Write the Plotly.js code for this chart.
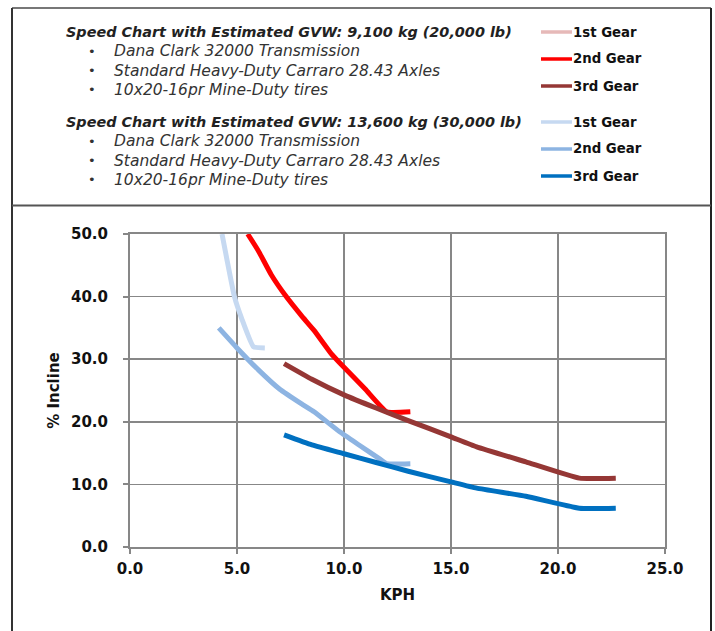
<!DOCTYPE html>
<html><head><meta charset="utf-8">
<script src="https://cdn.plot.ly/plotly-3.0.1.min.js"></script>
<style>html,body{margin:0;padding:0;background:#fff}#chart{width:715px;height:631px}</style>
</head><body><div id="chart"></div>
<script>
// ---- text content ----
const gearNames = ['1st Gear', '2nd Gear', '3rd Gear'];
const headers = ['Speed Chart with Estimated GVW: 9,100 kg (20,000 lb)',
                 'Speed Chart with Estimated GVW: 13,600 kg (30,000 lb)'];
const bullets = ['Dana Clark 32000 Transmission',
                 'Standard Heavy-Duty Carraro 28.43 Axles',
                 '10x20-16pr Mine-Duty tires'];
const xTickVals = [0, 5, 10, 15, 20, 25];
const yTickVals = [0, 10, 20, 30, 40, 50];

// ---- data: GVW 20,000 lb ----
const g1_20k_kph = [];
const g1_20k_inc = [];
const g2_20k_kph = [5.5, 6.0, 6.6, 7.3, 8.0, 8.6, 9.4, 10.0, 11.0, 12.0, 13.1];
const g2_20k_inc = [50.0, 47.3, 43.5, 40.0, 37.0, 34.6, 30.9, 28.7, 25.2, 21.6, 21.6];
const g3_20k_kph = [7.2, 8.5, 10.0, 11.5, 13.0, 15.0, 16.2, 18.5, 21.0, 22.7];
const g3_20k_inc = [29.3, 26.8, 24.3, 22.2, 20.2, 17.6, 16.0, 13.6, 11.0, 11.0];

// ---- data: GVW 30,000 lb ----
const g1_30k_kph = [4.3, 4.52, 4.88, 5.22, 5.77, 6.3];
const g1_30k_inc = [50.0, 46.1, 40.0, 36.5, 32.0, 31.8];
const g2_30k_kph = [4.15, 5.0, 6.0, 7.0, 8.0, 8.6, 9.8, 10.7, 11.7, 12.0, 13.1];
const g2_30k_inc = [35.0, 31.8, 28.3, 25.2, 22.9, 21.6, 18.4, 16.3, 14.0, 13.3, 13.3];
const g3_30k_kph = [7.2, 8.5, 10.0, 11.5, 13.0, 15.0, 16.2, 18.5, 21.0, 22.7];
const g3_30k_inc = [17.9, 16.3, 14.9, 13.5, 12.1, 10.4, 9.4, 8.1, 6.2, 6.2];

const colors20k = ['#E6B9B8', '#FF0000', '#953735'];
const colors30k = ['#C6D9F1', '#8DB4E2', '#0070C0'];

// ---- layout geometry ----
const W = 715, H = 631;
const M = {l: 130, r: 50, t: 234, b: 84};
const PW = W - M.l - M.r, PH = H - M.t - M.b;
const px = x => (x - M.l) / PW;
const py = y => (H - M.b - y) / PH;

const series = [
  [g1_20k_kph, g1_20k_inc, colors20k[0], gearNames[0]],
  [g2_20k_kph, g2_20k_inc, colors20k[1], gearNames[1]],
  [g3_20k_kph, g3_20k_inc, colors20k[2], gearNames[2]],
  [g1_30k_kph, g1_30k_inc, colors30k[0], gearNames[0]],
  [g2_30k_kph, g2_30k_inc, colors30k[1], gearNames[1]],
  [g3_30k_kph, g3_30k_inc, colors30k[2], gearNames[2]],
];
const traces = series.map(s => ({
  type: 'scatter', mode: 'lines', x: s[0], y: s[1], name: s[3],
  line: {color: s[2], width: 5, shape: 'spline', smoothing: 0.4},
  showlegend: false, hoverinfo: 'x+y'
}));

const annotations = [];
const shapes = [];
const txtFont = 'DejaVu Sans, Open Sans, sans-serif';
const groupTop = [32, 122];
const rowGap = 19.3;
const legendGap = 27;
[0, 1].forEach(g => {
  const y0 = groupTop[g];
  annotations.push({xref: 'paper', yref: 'paper', x: px(64), y: py(y0), xanchor: 'left', yanchor: 'middle',
    text: '<b><i>' + headers[g] + '</i></b>', showarrow: false,
    font: {family: txtFont, size: 14.4, color: '#222'}});
  bullets.forEach((b, i) => {
    const yy = y0 + rowGap * (i + 1);
    annotations.push({xref: 'paper', yref: 'paper', x: px(92), y: py(yy), xanchor: 'center', yanchor: 'middle',
      text: '•', showarrow: false, font: {family: txtFont, size: 13, color: '#333'}});
    annotations.push({xref: 'paper', yref: 'paper', x: px(112), y: py(yy), xanchor: 'left', yanchor: 'middle',
      text: '<i>' + b + '</i>', showarrow: false, font: {family: txtFont, size: 15.5, color: '#333'}});
  });
  const cols = g === 0 ? colors20k : colors30k;
  gearNames.forEach((n, i) => {
    const yy = y0 + legendGap * i;
    shapes.push({type: 'line', xref: 'paper', yref: 'paper', x0: px(541), x1: px(572), y0: py(yy), y1: py(yy),
      line: {color: cols[i], width: 3.5}});
    annotations.push({xref: 'paper', yref: 'paper', x: px(571), y: py(yy), xanchor: 'left', yanchor: 'middle',
      text: '<b>' + n + '</b>', showarrow: false, font: {family: txtFont, size: 13.3, color: '#111'}});
  });
});

// frame borders
const frame = [
  [12, 8, 711, 8, '#777'],
  [12, 8, 12, 660, '#333'],
  [711, 8, 711, 660, '#222'],
  [12, 205.5, 711, 205.5, '#555'],
];
frame.forEach(f => shapes.push({type: 'line', xref: 'paper', yref: 'paper',
  x0: px(f[0]), y0: py(f[1]), x1: px(f[2]), y1: py(f[3]), line: {color: f[4], width: 2}}));

const axisCommon = {
  showgrid: true, gridcolor: '#878787', gridwidth: 1.6,
  showline: true, linecolor: '#878787', linewidth: 2, mirror: true,
  ticks: 'outside', ticklen: 5, tickcolor: '#878787', tickwidth: 2,
  zeroline: false, tickformat: '.1f',
  tickfont: {family: txtFont, size: 15, color: '#111', weight: 'bold'},
  fixedrange: true
};

const layout = {
  width: W, height: H, margin: M,
  paper_bgcolor: '#fff', plot_bgcolor: '#fff',
  showlegend: false,
  xaxis: Object.assign({}, axisCommon, {range: [0, 25], tickvals: xTickVals, ticklabelstandoff: 2,
    title: {text: 'KPH', font: {family: txtFont, size: 15, color: '#111', weight: 'bold'}, standoff: 12}}),
  yaxis: Object.assign({}, axisCommon, {range: [0, 50], tickvals: yTickVals, ticklabelstandoff: 12,
    title: {text: '% Incline', font: {family: txtFont, size: 15, color: '#111', weight: 'bold'}, standoff: 8}}),
  annotations: annotations,
  shapes: shapes
};

Plotly.newPlot('chart', traces, layout, {displayModeBar: false, staticPlot: true});
</script>
</body></html>
